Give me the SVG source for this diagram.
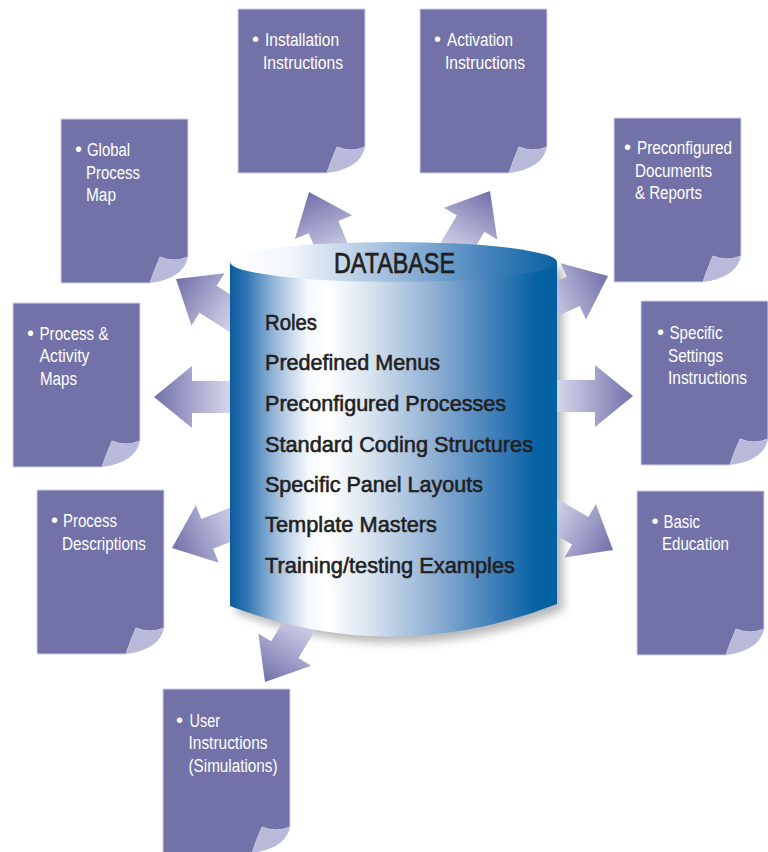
<svg xmlns="http://www.w3.org/2000/svg" xmlns:xlink="http://www.w3.org/1999/xlink" width="768" height="852" viewBox="0 0 768 852">
<style>
.doc{fill:#7272a8;stroke:#d2d2e8;stroke-width:1}
.curl{fill:#b9b9da}
.dt{font-family:"Liberation Sans",Arial,sans-serif;font-size:18px;fill:#ffffff}
.bul{font-family:"Liberation Sans",Arial,sans-serif;font-size:20px;fill:#ffffff}
.item{font-family:"Liberation Sans",Arial,sans-serif;font-size:22px;fill:#231f20;stroke:#231f20;stroke-width:0.6}
.title{font-family:"Liberation Sans",Arial,sans-serif;font-size:29px;fill:#231f20;stroke:#231f20;stroke-width:0.7}
</style>
<defs>
<linearGradient id="ag" x1="0" y1="0" x2="1" y2="0">
<stop offset="0" stop-color="#e6e6f3"/>
<stop offset="0.4" stop-color="#bcbcdb"/>
<stop offset="1" stop-color="#7270aa"/>
</linearGradient>
<linearGradient id="bodyg" x1="0" y1="0" x2="1" y2="0">
<stop offset="0" stop-color="#0a5c9e"/>
<stop offset="0.05" stop-color="#2f74b2"/>
<stop offset="0.14" stop-color="#9dbbdb"/>
<stop offset="0.24" stop-color="#f6f9fc"/>
<stop offset="0.3" stop-color="#ffffff"/>
<stop offset="0.42" stop-color="#dbe5f1"/>
<stop offset="0.62" stop-color="#90b0d4"/>
<stop offset="0.82" stop-color="#3b7cb7"/>
<stop offset="0.93" stop-color="#0864a4"/>
<stop offset="1" stop-color="#0060a0"/>
</linearGradient>
<linearGradient id="topg" x1="0" y1="0" x2="1" y2="0">
<stop offset="0" stop-color="#ffffff"/>
<stop offset="0.18" stop-color="#f2f6fb"/>
<stop offset="0.5" stop-color="#9ebbdc"/>
<stop offset="0.82" stop-color="#3a7db8"/>
<stop offset="1" stop-color="#0a62a2"/>
</linearGradient>
<filter id="blur" x="-10%" y="-10%" width="120%" height="120%">
<feGaussianBlur stdDeviation="5"/>
</filter>
<path id="arrow" d="M0,0 L-38,-31 L-38,-16 L-92,-16 L-92,16 L-38,16 L-38,31 Z" fill="url(#ag)"/>
<g id="docshape">
<path class="doc" d="M0,0 H127 V138 Q113,144 99,138 Q93,152 89,164 H0 Z"/>
<path class="curl" d="M127,138 Q113,144 99,138 Q93,152 89,164 Q122.6,159.6 127,138 Z"/>
</g>
</defs>
<rect width="768" height="852" fill="#ffffff"/>

<g id="node-installation">
<use href="#docshape" x="238" y="9"/>
<text class="bul" x="252" y="46">•</text>
<text class="dt" x="265" y="46" textLength="74" lengthAdjust="spacingAndGlyphs">Installation</text>
<text class="dt" x="263" y="69" textLength="80" lengthAdjust="spacingAndGlyphs">Instructions</text>
</g>
<g id="node-activation">
<use href="#docshape" x="420" y="9"/>
<text class="bul" x="434" y="46">•</text>
<text class="dt" x="447" y="46" textLength="66" lengthAdjust="spacingAndGlyphs">Activation</text>
<text class="dt" x="445" y="69" textLength="80" lengthAdjust="spacingAndGlyphs">Instructions</text>
</g>
<g id="node-global">
<use href="#docshape" x="61" y="119"/>
<text class="bul" x="75" y="156">•</text>
<text class="dt" x="87" y="156" textLength="43" lengthAdjust="spacingAndGlyphs">Global</text>
<text class="dt" x="86" y="179" textLength="54" lengthAdjust="spacingAndGlyphs">Process</text>
<text class="dt" x="86" y="201" textLength="30" lengthAdjust="spacingAndGlyphs">Map</text>
</g>
<g id="node-preconfigured">
<use href="#docshape" x="614" y="118"/>
<text class="bul" x="624" y="154">•</text>
<text class="dt" x="637" y="154" textLength="95" lengthAdjust="spacingAndGlyphs">Preconfigured</text>
<text class="dt" x="635" y="177" textLength="77" lengthAdjust="spacingAndGlyphs">Documents</text>
<text class="dt" x="635" y="199" textLength="67" lengthAdjust="spacingAndGlyphs">&amp; Reports</text>
</g>
<g id="node-process-activity">
<use href="#docshape" x="13" y="303"/>
<text class="bul" x="27" y="340">•</text>
<text class="dt" x="39.5" y="340" textLength="69" lengthAdjust="spacingAndGlyphs">Process &amp;</text>
<text class="dt" x="39.5" y="362" textLength="50" lengthAdjust="spacingAndGlyphs">Activity</text>
<text class="dt" x="40" y="385" textLength="37" lengthAdjust="spacingAndGlyphs">Maps</text>
</g>
<g id="node-specific-settings">
<use href="#docshape" x="641" y="301"/>
<text class="bul" x="657" y="339">•</text>
<text class="dt" x="669.5" y="339" textLength="53" lengthAdjust="spacingAndGlyphs">Specific</text>
<text class="dt" x="668" y="362" textLength="55" lengthAdjust="spacingAndGlyphs">Settings</text>
<text class="dt" x="668" y="384" textLength="79" lengthAdjust="spacingAndGlyphs">Instructions</text>
</g>
<g id="node-process-descriptions">
<use href="#docshape" x="37" y="490"/>
<text class="bul" x="51" y="527">•</text>
<text class="dt" x="63" y="527" textLength="54" lengthAdjust="spacingAndGlyphs">Process</text>
<text class="dt" x="62" y="550" textLength="84" lengthAdjust="spacingAndGlyphs">Descriptions</text>
</g>
<g id="node-basic-education">
<use href="#docshape" x="637" y="491"/>
<text class="bul" x="651.5" y="528">•</text>
<text class="dt" x="663.5" y="528" textLength="36.5" lengthAdjust="spacingAndGlyphs">Basic</text>
<text class="dt" x="662" y="550" textLength="67" lengthAdjust="spacingAndGlyphs">Education</text>
</g>
<g id="node-user-instructions">
<use href="#docshape" x="163" y="689"/>
<text class="bul" x="176" y="727">•</text>
<text class="dt" x="189.5" y="727" textLength="30.5" lengthAdjust="spacingAndGlyphs">User</text>
<text class="dt" x="188.5" y="749" textLength="79" lengthAdjust="spacingAndGlyphs">Instructions</text>
<text class="dt" x="188.5" y="772" textLength="89" lengthAdjust="spacingAndGlyphs">(Simulations)</text>
</g>

<path id="cyl-shadow" d="M236,268 V612 Q399,674 563,610 V268 Z" fill="#4a4a4a" opacity="0.4" filter="url(#blur)"/>

<g id="connectors">
<use href="#arrow" transform="translate(154,397) rotate(180)"/>
<use href="#arrow" transform="translate(633,396)"/>
<use href="#arrow" transform="translate(309,192) rotate(-112.5)"/>
<use href="#arrow" transform="translate(490,191) rotate(-59.3)"/>
<use href="#arrow" transform="translate(176,279) rotate(-147.6)"/>
<use href="#arrow" transform="translate(608,276) rotate(-24)"/>
<use href="#arrow" transform="translate(172,548) rotate(158.3)"/>
<use href="#arrow" transform="translate(613,550) rotate(30.4)"/>
<use href="#arrow" transform="translate(265,682) rotate(121.4)"/>
</g>

<g id="node-database">
<path d="M230,262 V606 Q393,668 557,604 V262 Z" fill="url(#bodyg)"/>
<ellipse cx="393.5" cy="262" rx="163.5" ry="20" fill="url(#topg)"/>
<text class="title" x="334" y="273" textLength="121" lengthAdjust="spacingAndGlyphs">DATABASE</text>
<text class="item" x="265" y="330" textLength="52" lengthAdjust="spacingAndGlyphs">Roles</text>
<text class="item" x="265" y="370" textLength="175" lengthAdjust="spacingAndGlyphs">Predefined Menus</text>
<text class="item" x="265" y="411" textLength="241" lengthAdjust="spacingAndGlyphs">Preconfigured Processes</text>
<text class="item" x="265" y="451.5" textLength="268" lengthAdjust="spacingAndGlyphs">Standard Coding Structures</text>
<text class="item" x="265" y="492" textLength="218" lengthAdjust="spacingAndGlyphs">Specific Panel Layouts</text>
<text class="item" x="265" y="532" textLength="172" lengthAdjust="spacingAndGlyphs">Template Masters</text>
<text class="item" x="265" y="573" textLength="250" lengthAdjust="spacingAndGlyphs">Training/testing Examples</text>
</g>
</svg>
